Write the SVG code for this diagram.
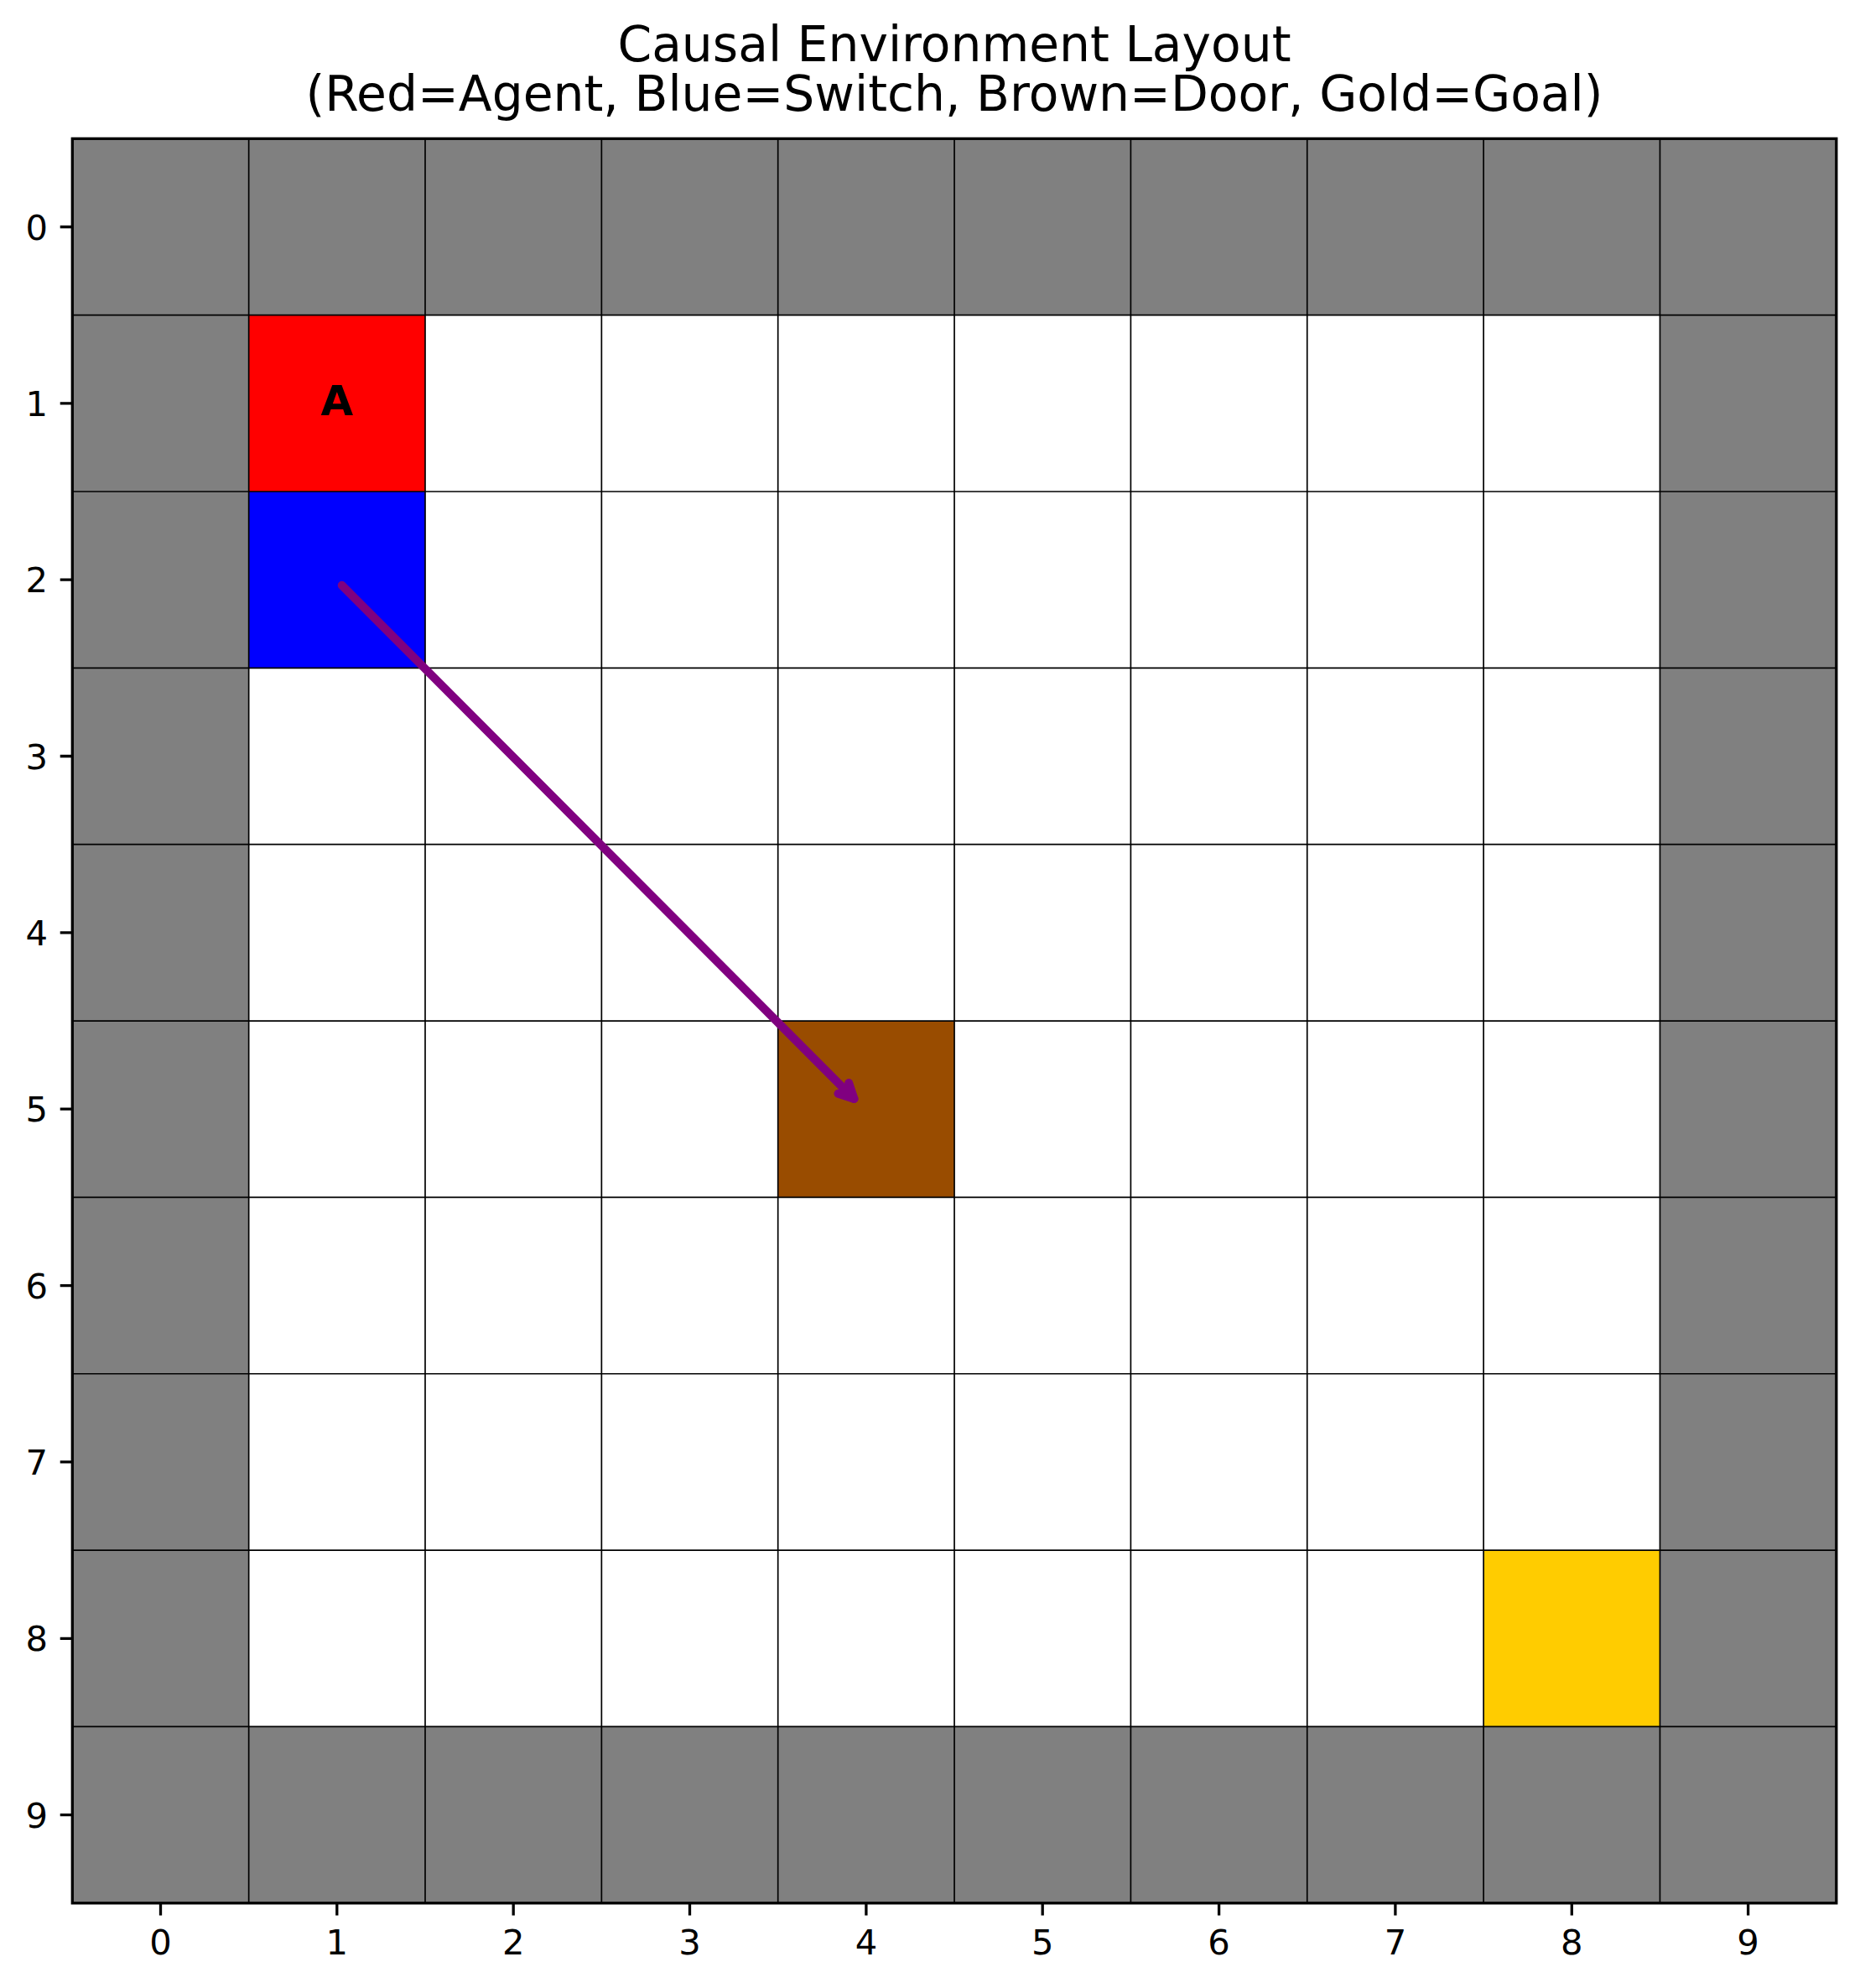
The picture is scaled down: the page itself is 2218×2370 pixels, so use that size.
<svg xmlns="http://www.w3.org/2000/svg" width="2218" height="2370" viewBox="0 0 2218 2370">
<style>
text{font-family:"DejaVu Sans","Liberation Sans",sans-serif;fill:#000}
.tl{font-size:41.7px}
.title{font-size:58.3px;text-anchor:middle}
.grid line{stroke:#000;stroke-width:1.7}
.tick{stroke:#000;stroke-width:3.3}
</style>
<rect width="2218" height="2370" fill="#fff"/>
<g id="title">
<text class="title" x="1138" y="73">Causal Environment Layout</text>
<text class="title" x="1138" y="131.5">(Red=Agent, Blue=Switch, Brown=Door, Gold=Goal)</text>
</g>
<g id="walls"><rect x="86.3" y="165.3" width="2103.5" height="2103.5" fill="#808080"/></g>
<g id="floor"><rect x="296.65" y="375.65" width="1682.8" height="1682.8" fill="#fff"/></g>
<g id="agent"><rect x="296.65" y="375.65" width="210.35" height="210.35" fill="#ff0000"/>
<text x="401.8" y="495" font-size="50px" font-weight="bold" text-anchor="middle">A</text></g>
<g id="switch"><rect x="296.65" y="586" width="210.35" height="210.35" fill="#0000ff"/></g>
<g id="door"><rect x="927.7" y="1217.05" width="210.35" height="210.35" fill="#994c00"/></g>
<g id="goal"><rect x="1769.1" y="1848.1" width="210.35" height="210.35" fill="#ffcc00"/></g>
<g class="grid">
<line x1="296.65" y1="165.3" x2="296.65" y2="2268.8"/>
<line x1="507" y1="165.3" x2="507" y2="2268.8"/>
<line x1="717.35" y1="165.3" x2="717.35" y2="2268.8"/>
<line x1="927.7" y1="165.3" x2="927.7" y2="2268.8"/>
<line x1="1138.05" y1="165.3" x2="1138.05" y2="2268.8"/>
<line x1="1348.4" y1="165.3" x2="1348.4" y2="2268.8"/>
<line x1="1558.75" y1="165.3" x2="1558.75" y2="2268.8"/>
<line x1="1769.1" y1="165.3" x2="1769.1" y2="2268.8"/>
<line x1="1979.45" y1="165.3" x2="1979.45" y2="2268.8"/>
<line x1="86.3" y1="375.65" x2="2189.8" y2="375.65"/>
<line x1="86.3" y1="586" x2="2189.8" y2="586"/>
<line x1="86.3" y1="796.35" x2="2189.8" y2="796.35"/>
<line x1="86.3" y1="1006.7" x2="2189.8" y2="1006.7"/>
<line x1="86.3" y1="1217.05" x2="2189.8" y2="1217.05"/>
<line x1="86.3" y1="1427.4" x2="2189.8" y2="1427.4"/>
<line x1="86.3" y1="1637.75" x2="2189.8" y2="1637.75"/>
<line x1="86.3" y1="1848.1" x2="2189.8" y2="1848.1"/>
<line x1="86.3" y1="2058.45" x2="2189.8" y2="2058.45"/>
</g>
<g id="connectors">
<path d="M407.7 697.7 L1018.5 1310" fill="none" stroke="#800080" stroke-width="10" stroke-linecap="round"/>
<polyline points="1012.2,1291 1018.5,1310 999.5,1303.7" fill="none" stroke="#800080" stroke-width="10" stroke-linecap="round" stroke-linejoin="round"/>
</g>
<g id="frame">
<rect x="86.3" y="165.3" width="2103.5" height="2103.5" fill="none" stroke="#000" stroke-width="3.3"/>
</g>
<g id="yaxis">
<path class="tick" d="M71.7 270.5H86.3M71.7 480.8H86.3M71.7 691.2H86.3M71.7 901.5H86.3M71.7 1111.9H86.3M71.7 1322.2H86.3M71.7 1532.6H86.3M71.7 1742.9H86.3M71.7 1953.3H86.3M71.7 2163.6H86.3"/>
<g class="tl" text-anchor="end">
<text x="57" y="285.5">0</text>
<text x="57" y="495.8">1</text>
<text x="57" y="706.2">2</text>
<text x="57" y="916.5">3</text>
<text x="57" y="1126.9">4</text>
<text x="57" y="1337.2">5</text>
<text x="57" y="1547.6">6</text>
<text x="57" y="1757.9">7</text>
<text x="57" y="1968.3">8</text>
<text x="57" y="2178.6">9</text>
</g>
</g>
<g id="xaxis">
<path class="tick" d="M191.5 2268.8V2283.4M401.8 2268.8V2283.4M612.2 2268.8V2283.4M822.5 2268.8V2283.4M1032.9 2268.8V2283.4M1243.2 2268.8V2283.4M1453.6 2268.8V2283.4M1663.9 2268.8V2283.4M1874.3 2268.8V2283.4M2084.6 2268.8V2283.4"/>
<g class="tl" text-anchor="middle">
<text x="191.5" y="2330">0</text>
<text x="401.8" y="2330">1</text>
<text x="612.2" y="2330">2</text>
<text x="822.5" y="2330">3</text>
<text x="1032.9" y="2330">4</text>
<text x="1243.2" y="2330">5</text>
<text x="1453.6" y="2330">6</text>
<text x="1663.9" y="2330">7</text>
<text x="1874.3" y="2330">8</text>
<text x="2084.6" y="2330">9</text>
</g>
</g>
</svg>
